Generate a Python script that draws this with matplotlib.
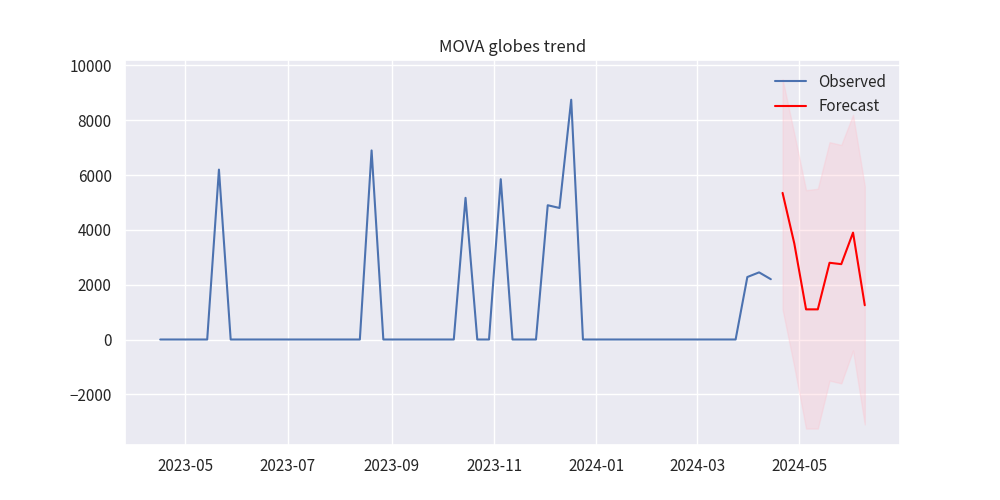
import numpy as np
import pandas as pd
import seaborn as sns
import matplotlib.pyplot as plt

sns.set_theme(style="darkgrid")
plt.rcParams['font.family'] = ['Noto Sans CJK SC', 'DejaVu Sans']

obs_dates = pd.date_range("2023-04-16", periods=53, freq="7D")
obs_values = [0, 0, 0, 0, 0, 6200, 0, 0, 0, 0, 0, 0, 0, 0, 0, 0, 0, 0, 6900,
              0, 0, 0, 0, 0, 0, 0, 5170, 0, 0, 5850, 0, 0, 0, 4900, 4800, 8750,
              0, 0, 0, 0, 0, 0, 0, 0, 0, 0, 0, 0, 0, 0, 2280, 2450, 2200]

fc_dates = pd.date_range("2024-04-21", periods=8, freq="7D")
fc_values = [5350, 3500, 1100, 1100, 2800, 2750, 3900, 1250]
fc_upper = [9500, 7500, 5450, 5500, 7200, 7100, 8200, 5600]
fc_lower = [1100, -1000, -3250, -3250, -1500, -1600, -400, -3100]

fig, ax = plt.subplots(figsize=(10, 5), dpi=100)
ax.plot(obs_dates, obs_values, color="#4c72b0", label="Observed")
ax.plot(fc_dates, fc_values, color="red", label="Forecast")
ax.fill_between(fc_dates, fc_lower, fc_upper, color="pink", alpha=0.3)
ax.set_title("MOVA globes trend")
ax.set_ylim(-3850, 10200)
ax.legend(loc="upper right", frameon=False)
fig.savefig("out.png")
